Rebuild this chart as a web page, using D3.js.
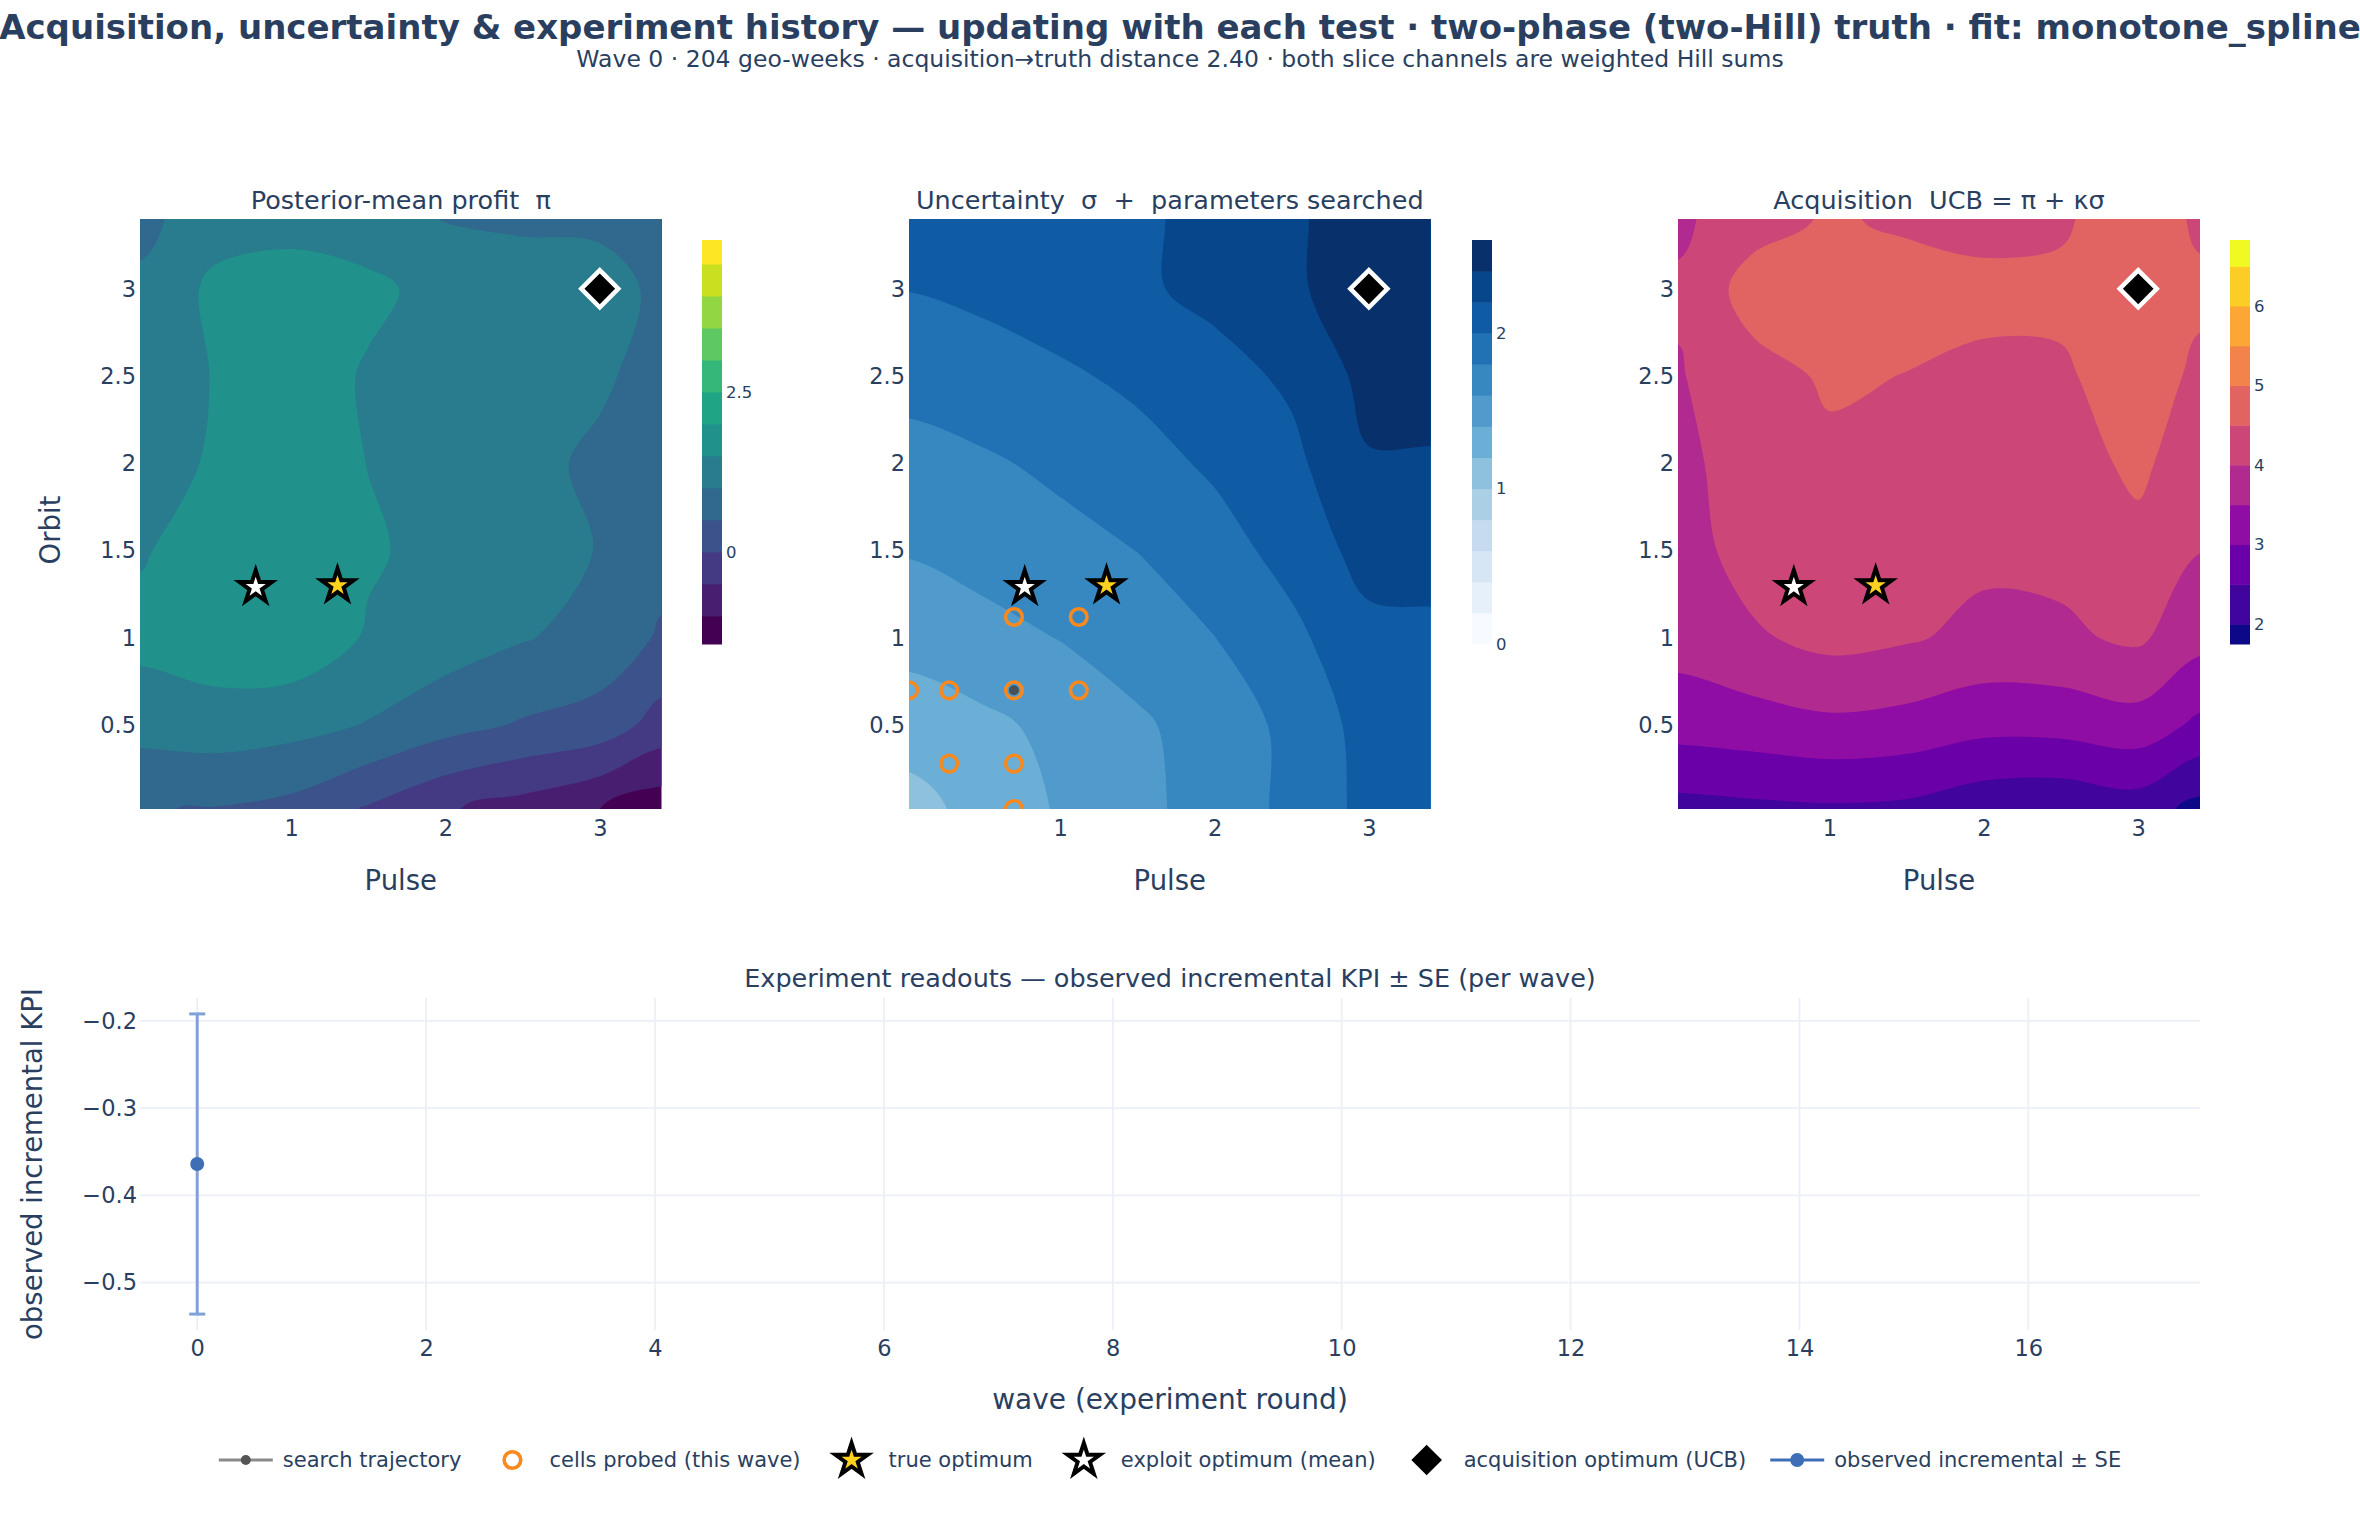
<!DOCTYPE html>
<html>
<head>
<meta charset="utf-8">
<script src="https://cdn.jsdelivr.net/npm/d3@7/dist/d3.min.js"></script>
<style>
  body { margin: 0; background: #fff; }
  svg text { font-family: "DejaVu Sans", Verdana, sans-serif; fill: #2a3f5f; white-space: pre; }
</style>
</head>
<body>
<svg id="chart" width="2360" height="1520"></svg>
<script>
// grid the three surfaces are sampled on
var pulseGrid = [0.02, 0.5, 1.0, 1.5, 2.0, 2.5, 3.0, 3.4];
var orbitGrid = [0.02, 0.5, 1.0, 1.5, 2.0, 2.5, 3.0, 3.4];

// rows = orbit (low to high), columns = pulse
var meanProfit = [
  [0.52, 0.48, 0.35, -0.05, -0.45, -0.70, -1.00, -1.30],
  [1.18, 1.26, 1.17, 0.97, 0.67, 0.45, 0.28, -0.20],
  [1.65, 1.80, 1.85, 1.45, 1.25, 1.03, 0.85, 0.43],
  [1.45, 1.75, 1.85, 1.56, 1.35, 1.20, 0.98, 0.70],
  [1.30, 1.55, 1.80, 1.49, 1.30, 1.15, 0.90, 0.75],
  [1.20, 1.52, 1.75, 1.45, 1.28, 1.20, 1.08, 0.80],
  [1.10, 1.60, 1.70, 1.60, 1.35, 1.30, 1.15, 0.92],
  [0.85, 1.30, 1.35, 1.25, 0.98, 0.90, 0.92, 0.85]
];
var sigmaGrid = [
  [1.126, 1.270, 1.420, 1.547, 1.684, 1.848, 2.060, 2.070],
  [1.294, 1.359, 1.448, 1.567, 1.695, 1.847, 2.080, 2.090],
  [1.467, 1.533, 1.606, 1.700, 1.797, 1.955, 2.140, 2.150],
  [1.614, 1.674, 1.738, 1.802, 1.923, 2.065, 2.280, 2.290],
  [1.732, 1.774, 1.839, 1.930, 2.030, 2.151, 2.385, 2.385],
  [1.864, 1.916, 1.970, 2.040, 2.127, 2.235, 2.460, 2.460],
  [2.005, 2.043, 2.106, 2.168, 2.256, 2.374, 2.490, 2.500],
  [2.010, 2.045, 2.105, 2.168, 2.256, 2.374, 2.490, 2.500]
];
var ucbGrid = [
  [2.33, 2.39, 2.43, 2.39, 2.17, 2.11, 2.25, 1.84],
  [3.20, 3.28, 3.39, 3.32, 3.15, 3.17, 3.29, 2.89],
  [3.70, 3.93, 4.15, 4.05, 3.88, 3.92, 4.08, 3.66],
  [3.78, 4.20, 4.28, 4.18, 4.10, 4.12, 4.36, 4.01],
  [3.86, 4.25, 4.41, 4.34, 4.27, 4.29, 4.60, 4.21],
  [3.96, 4.33, 4.56, 4.49, 4.44, 4.43, 4.75, 4.40],
  [4.07, 4.70, 4.75, 4.68, 4.58, 4.62, 4.90, 4.60],
  [3.90, 4.30, 4.55, 4.43, 4.40, 4.42, 4.85, 4.40]
];

// contour start / end / step, and colour-bar range
var meanLevels = [-1, 4.5, 0.5], meanRange = [-1.44, 4.875], meanCbTicks = [0, 2.5];
var sigmaLevels = [0.2, 2.4, 0.2], sigmaRange = [0, 2.6], sigmaCbTicks = [0, 1, 2];
var ucbLevels = [2, 6.5, 0.5], ucbRange = [1.75, 6.83], ucbCbTicks = [2, 3, 4, 5, 6];

var probedPulse = [0.70, 1.12, 0.02, 0.28, 0.70, 1.12, 0.28, 0.70, 0.70];
var probedOrbit = [1.12, 1.12, 0.70, 0.70, 0.70, 0.70, 0.28, 0.28, 0.02];
var trajPulse = [0.70], trajOrbit = [0.70];
var trueOpt = [1.30, 1.30];
var exploitOpt = [0.77, 1.29];
var acqOpt = [3.0, 3.0];

var waves = [0], observedKpi = [-0.364], observedSe = [0.172];
var waveRange = [-0.5, 17.5];

var heatTicksX = [1, 2, 3], heatTicksY = [0.5, 1, 1.5, 2, 2.5, 3];
var waveTicks = [0, 2, 4, 6, 8, 10, 12, 14, 16];

var svg = d3.select('#chart');
var hmTop = 219, hmBottom = 809;
var cbTop = 240, cbBottom = 644;

svg.append('text').attr('x', 1180).attr('y', 39).attr('text-anchor', 'middle')
  .attr('font-size', 34).attr('font-weight', 'bold')
  .text('Acquisition, uncertainty & experiment history — updating with each test · two-phase (two-Hill) truth · fit: monotone_spline');
svg.append('text').attr('x', 1180).attr('y', 67).attr('text-anchor', 'middle').attr('font-size', 23.5)
  .text('Wave 0 · 204 geo-weeks · acquisition→truth distance 2.40 · both slice channels are weighted Hill sums');

var panels = [
  { x0: 140, x1: 661.5, cbx: 702, title: 'Posterior-mean profit  π', z: meanProfit, lv: meanLevels,
    range: meanRange, cbTicks: meanCbTicks, interp: d3.interpolateViridis, probes: false },
  { x0: 909, x1: 1430.6, cbx: 1472, title: 'Uncertainty  σ  +  parameters searched', z: sigmaGrid, lv: sigmaLevels,
    range: sigmaRange, cbTicks: sigmaCbTicks, interp: d3.piecewise(d3.interpolateRgb, d3.schemeBlues[9]), probes: true },
  { x0: 1678, x1: 2200, cbx: 2230, title: 'Acquisition  UCB = π + κσ', z: ucbGrid, lv: ucbLevels,
    range: ucbRange, cbTicks: ucbCbTicks, interp: d3.interpolatePlasma, probes: false }
];

var star = d3.symbol().type(d3.symbolStar).size(324);
var diamond = d3.symbol().type(d3.symbolSquare).size(686);

function drawStar(g, px, py, fill) {
  g.append('path').attr('d', star()).attr('transform', 'translate(' + px + ',' + py + ')')
    .attr('fill', fill).attr('stroke', '#000').attr('stroke-width', 4);
}
function drawDiamond(g, px, py, stroke) {
  g.append('path').attr('d', diamond()).attr('transform', 'translate(' + px + ',' + py + ') rotate(45)')
    .attr('fill', '#000').attr('stroke', stroke).attr('stroke-width', 4.5);
}

function contourBands(g, p, x, y, levels, colour) {
  var n = pulseGrid.length, m = orbitGrid.length, W = n + 2, H = m + 2;
  // one ring of edge copies so the frame of every polygon lands outside the plot
  var vals = [];
  for (var j = 0; j < H; j++)
    for (var i = 0; i < W; i++)
      vals.push(p.z[Math.min(Math.max(j - 1, 0), m - 1)][Math.min(Math.max(i - 1, 0), n - 1)]);
  var gx = [pulseGrid[0] - 0.5].concat(pulseGrid, [pulseGrid[n - 1] + 0.5]);
  var gy = [orbitGrid[0] - 0.5].concat(orbitGrid, [orbitGrid[m - 1] + 0.5]);
  function toData(c, arr) {
    var s = c - 0.5, k = Math.max(0, Math.min(arr.length - 2, Math.floor(s)));
    return arr[k] + (s - k) * (arr[k + 1] - arr[k]);
  }
  var line = d3.line().curve(d3.curveCatmullRomClosed.alpha(0.5));
  g.append('rect').attr('x', p.x0 - 5).attr('y', hmTop - 5)
    .attr('width', p.x1 - p.x0 + 10).attr('height', hmBottom - hmTop + 10).attr('fill', colour(0));
  d3.contours().size([W, H]).thresholds(levels)(vals).forEach(function (c, i) {
    var d = c.coordinates.map(function (poly) {
      return poly.map(function (ring) {
        return line(ring.slice(0, -1).map(function (pt) {
          return [x(toData(pt[0], gx)), y(toData(pt[1], gy))];
        }));
      }).join('');
    }).join('');
    if (d) g.append('path').attr('d', d).attr('fill', colour(i + 1)).attr('fill-rule', 'evenodd');
  });
}

panels.forEach(function (p, idx) {
  var x = d3.scaleLinear().domain([pulseGrid[0], pulseGrid[pulseGrid.length - 1]]).range([p.x0, p.x1]);
  var y = d3.scaleLinear().domain([orbitGrid[0], orbitGrid[orbitGrid.length - 1]]).range([hmBottom, hmTop]);
  var levels = d3.range(p.lv[0], p.lv[1] + p.lv[2] / 2, p.lv[2]);
  var nb = levels.length + 1;
  var colour = function (k) { return p.interp(k / (nb - 1)); };

  svg.append('clipPath').attr('id', 'clip' + idx).append('rect')
    .attr('x', p.x0).attr('y', hmTop).attr('width', p.x1 - p.x0).attr('height', hmBottom - hmTop);
  var g = svg.append('g').attr('clip-path', 'url(#clip' + idx + ')');
  contourBands(g, p, x, y, levels, colour);

  if (p.probes) {
    trajPulse.forEach(function (v, i) {
      g.append('circle').attr('cx', x(v)).attr('cy', y(trajOrbit[i])).attr('r', 5).attr('fill', '#444').attr('opacity', 0.85);
    });
    probedPulse.forEach(function (v, i) {
      g.append('circle').attr('cx', x(v)).attr('cy', y(probedOrbit[i])).attr('r', 8.3)
        .attr('fill', 'none').attr('stroke', '#f7891f').attr('stroke-width', 3.6);
    });
  }
  drawStar(g, x(trueOpt[0]), y(trueOpt[1]), '#ffd21f');
  drawStar(g, x(exploitOpt[0]), y(exploitOpt[1]), '#fff');
  drawDiamond(g, x(acqOpt[0]), y(acqOpt[1]), '#fff');

  // colour bar
  var cy = d3.scaleLinear().domain(p.range).range([cbBottom, cbTop]);
  var edges = [p.range[0]].concat(levels.filter(function (l) { return l > p.range[0] && l < p.range[1]; }), [p.range[1]]);
  for (var e = 0; e < edges.length - 1; e++) {
    svg.append('rect').attr('x', p.cbx).attr('width', 20)
      .attr('y', cy(edges[e + 1])).attr('height', cy(edges[e]) - cy(edges[e + 1]) + 0.5)
      .attr('fill', colour(e));
  }
  p.cbTicks.forEach(function (t) {
    svg.append('text').attr('x', p.cbx + 24).attr('y', cy(t)).attr('dy', '0.35em')
      .attr('font-size', 16.5).text(d3.format('~g')(t));
  });

  // axes
  var ax = svg.append('g').attr('transform', 'translate(0,' + hmBottom + ')')
    .call(d3.axisBottom(x).tickValues(heatTicksX).tickSize(0).tickPadding(11).tickFormat(d3.format('~g')));
  ax.attr('font-size', 22.5).select('.domain').remove();
  var ay = svg.append('g').attr('transform', 'translate(' + p.x0 + ',0)')
    .call(d3.axisLeft(y).tickValues(heatTicksY).tickSize(0).tickPadding(4).tickFormat(d3.format('~g')));
  ay.attr('font-size', 22.5).select('.domain').remove();

  var cx = (p.x0 + p.x1) / 2;
  svg.append('text').attr('x', cx).attr('y', 209).attr('text-anchor', 'middle').attr('font-size', 25.5).text(p.title);
  svg.append('text').attr('x', cx).attr('y', 890).attr('text-anchor', 'middle').attr('font-size', 27.5).text('Pulse');
  if (idx === 0) {
    svg.append('text').attr('transform', 'translate(60,530) rotate(-90)')
      .attr('text-anchor', 'middle').attr('font-size', 27.5).text('Orbit');
  }
});

// experiment readouts
var bx0 = 140, bx1 = 2200, by0 = 998, by1 = 1330;
var lo = d3.min(observedKpi, function (v, i) { return v - observedSe[i]; });
var hi = d3.max(observedKpi, function (v, i) { return v + observedSe[i]; });
var pad = (hi - lo) * 0.053;
var bx = d3.scaleLinear().domain(waveRange).range([bx0, bx1]);
var by = d3.scaleLinear().domain([lo - pad, hi + pad]).range([by1, by0]);

var grid = svg.append('g').attr('stroke', '#ebf0f8').attr('stroke-width', 1.8);
waveTicks.forEach(function (t) {
  grid.append('line').attr('x1', bx(t)).attr('x2', bx(t)).attr('y1', by0).attr('y2', by1);
});
by.ticks(4).forEach(function (t) {
  grid.append('line').attr('x1', bx0).attr('x2', bx1).attr('y1', by(t)).attr('y2', by(t));
});

var bxa = svg.append('g').attr('transform', 'translate(0,' + by1 + ')')
  .call(d3.axisBottom(bx).tickValues(waveTicks).tickSize(0).tickPadding(10));
bxa.attr('font-size', 22.5).select('.domain').remove();
var bya = svg.append('g').attr('transform', 'translate(' + bx0 + ',0)')
  .call(d3.axisLeft(by).ticks(4).tickSize(0).tickPadding(3).tickFormat(d3.format('.1f')));
bya.attr('font-size', 22.5).select('.domain').remove();

var obs = svg.append('g');
waves.forEach(function (w, i) {
  var px = bx(w);
  var ylo = by(observedKpi[i] - observedSe[i]), yhi = by(observedKpi[i] + observedSe[i]);
  var eb = obs.append('g').attr('stroke', '#7fa1d8').attr('stroke-width', 3);
  eb.append('line').attr('x1', px).attr('x2', px).attr('y1', ylo).attr('y2', yhi);
  eb.append('line').attr('x1', px - 8).attr('x2', px + 8).attr('y1', ylo).attr('y2', ylo);
  eb.append('line').attr('x1', px - 8).attr('x2', px + 8).attr('y1', yhi).attr('y2', yhi);
  obs.append('circle').attr('cx', px).attr('cy', by(observedKpi[i])).attr('r', 7).attr('fill', '#3e6fb6');
});

svg.append('text').attr('x', (bx0 + bx1) / 2).attr('y', 987).attr('text-anchor', 'middle').attr('font-size', 25.5)
  .text('Experiment readouts — observed incremental KPI ± SE (per wave)');
svg.append('text').attr('x', (bx0 + bx1) / 2).attr('y', 1409).attr('text-anchor', 'middle').attr('font-size', 28)
  .text('wave (experiment round)');
svg.append('text').attr('transform', 'translate(42,' + (by0 + by1) / 2 + ') rotate(-90)')
  .attr('text-anchor', 'middle').attr('font-size', 27.5).text('observed incremental KPI');

// legend
var legendItems = [
  { label: 'search trajectory', kind: 'traj' },
  { label: 'cells probed (this wave)', kind: 'probe' },
  { label: 'true optimum', kind: 'true' },
  { label: 'exploit optimum (mean)', kind: 'exploit' },
  { label: 'acquisition optimum (UCB)', kind: 'acq' },
  { label: 'observed incremental ± SE', kind: 'obs' }
];
var ly = 1460, symOff = 37, gap = 88;
var legend = svg.append('g');
var cursor = 0, placed = [];
legendItems.forEach(function (it) {
  var t = legend.append('text').attr('x', cursor).attr('y', ly).attr('dy', '0.35em').attr('font-size', 21).text(it.label);
  var w = t.node().getComputedTextLength();
  placed.push({ it: it, x: cursor });
  cursor += w + gap;
});
var left = -symOff - 27, right = cursor - gap;
legend.attr('transform', 'translate(' + ((bx0 + bx1) / 2 - (left + right) / 2) + ',0)');
placed.forEach(function (pl) {
  var sx = pl.x - symOff, k = pl.it.kind;
  if (k === 'traj' || k === 'obs') {
    var col = k === 'traj' ? '#8a8a8a' : '#3e6fb6';
    legend.append('line').attr('x1', sx - 27).attr('x2', sx + 27).attr('y1', ly).attr('y2', ly)
      .attr('stroke', col).attr('stroke-width', 3);
    legend.append('circle').attr('cx', sx).attr('cy', ly).attr('r', k === 'traj' ? 5 : 7)
      .attr('fill', k === 'traj' ? '#555' : '#3e6fb6');
  } else if (k === 'probe') {
    legend.append('circle').attr('cx', sx).attr('cy', ly).attr('r', 8.3)
      .attr('fill', 'none').attr('stroke', '#f7891f').attr('stroke-width', 3.6);
  } else if (k === 'true') {
    drawStar(legend, sx, ly, '#ffd21f');
  } else if (k === 'exploit') {
    drawStar(legend, sx, ly, '#fff');
  } else {
    drawDiamond(legend, sx, ly, '#fff');
  }
});
</script>
</body>
</html>
